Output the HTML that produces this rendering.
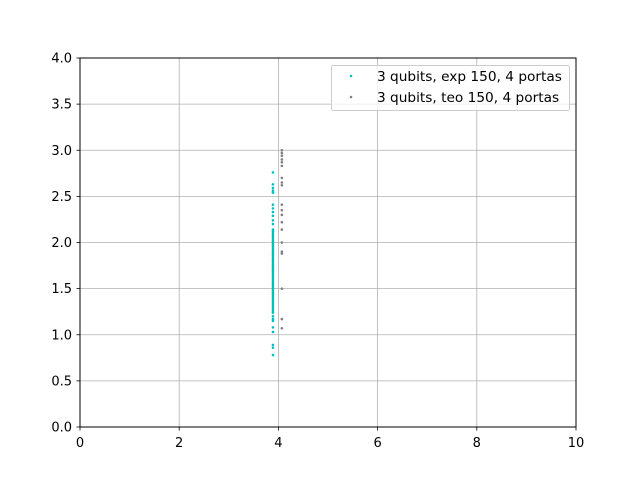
<!DOCTYPE html>
<html><head><meta charset="utf-8"><style>
body{margin:0;background:#fff;}
svg{display:block;font-family:"DejaVu Sans","Liberation Sans",sans-serif;}
</style></head><body>
<svg id="chart" width="640" height="480" viewBox="0 0 640 480">
<rect x="0" y="0" width="640" height="480" fill="#fff"/>
<g id="grid"></g>
<g id="pts"></g>
<rect x="80" y="58" width="496" height="369" fill="none" stroke="#000" stroke-width="1"/>
<g id="ticks"></g>
<g>
<rect x="331.5" y="65.5" width="238" height="45" rx="2" fill="#fff" fill-opacity="0.8" stroke="#ccc"/>
<circle cx="351" cy="76" r="1.3" fill="#00bfbf"/>
<text x="377" y="81" font-size="13.7" fill="#000">3 qubits, exp 150, 4 portas</text>
<circle cx="351" cy="97" r="1.3" fill="#808080"/>
<text x="377" y="102" font-size="13.7" fill="#000">3 qubits, teo 150, 4 portas</text>
</g>
</svg>
<script>
const xTicks=[0,2,4,6,8,10];
const yTicks=[0.0,0.5,1.0,1.5,2.0,2.5,3.0,3.5,4.0];
const expX=3.89;
const expY=[2.76,2.63,2.59,2.56,2.54,2.41,2.37,2.33,2.29,2.24,2.20,2.14,2.12,2.10,2.08,2.06,2.04,2.02,2.00,1.98,1.96,1.94,1.92,1.90,1.88,1.86,1.84,1.82,1.80,1.78,1.76,1.74,1.72,1.70,1.68,1.66,1.64,1.62,1.60,1.58,1.56,1.54,1.52,1.50,1.48,1.46,1.44,1.42,1.40,1.38,1.36,1.34,1.32,1.30,1.28,1.26,1.24,1.20,1.17,1.15,1.08,1.03,0.89,0.86,0.78];
const teoX=4.07;
const teoY=[3.00,2.97,2.94,2.90,2.87,2.83,2.70,2.65,2.62,2.41,2.35,2.30,2.22,2.14,2.00,1.90,1.88,1.50,1.17,1.07];
const NS='http://www.w3.org/2000/svg';
const sx=v=>80+v*49.6, sy=v=>427-v*92.25;
function mk(t,a,p){const e=document.createElementNS(NS,t);for(const k in a)e.setAttribute(k,a[k]);p.appendChild(e);return e;}
const grid=document.getElementById('grid'),ticks=document.getElementById('ticks'),pts=document.getElementById('pts');
xTicks.forEach(v=>{const x=sx(v);
 const g=mk('line',{x1:x,x2:x,y1:58,y2:427,stroke:'#b0b0b0','stroke-width':0.8},grid);
 
 
 const t=mk('line',{x1:x,x2:x,y1:427,y2:430.5,stroke:'#000','stroke-width':0.8},ticks);
 
 
 const l=mk('text',{x:x,y:447,'font-size':13,'text-anchor':'middle'},ticks);l.textContent=v;
 
 
});
yTicks.forEach(v=>{const y=sy(v);
 const g=mk('line',{x1:80,x2:576,y1:y,y2:y,stroke:'#b0b0b0','stroke-width':0.8},grid);
 
 
 const t=mk('line',{x1:76.5,x2:80,y1:y,y2:y,stroke:'#000','stroke-width':0.8},ticks);
 
 
 const l=mk('text',{x:72,y:y+4.5,'font-size':13,'text-anchor':'end'},ticks);l.textContent=v.toFixed(1);
 
 
});
expY.forEach(v=>{const c=mk('circle',{cx:sx(expX),cy:sy(v),r:1.3,fill:'#00bfbf'},pts);
 
 });
teoY.forEach(v=>{const c=mk('circle',{cx:sx(teoX),cy:sy(v),r:1.3,fill:'#808080'},pts);
 
 });
</script>
</body></html>
